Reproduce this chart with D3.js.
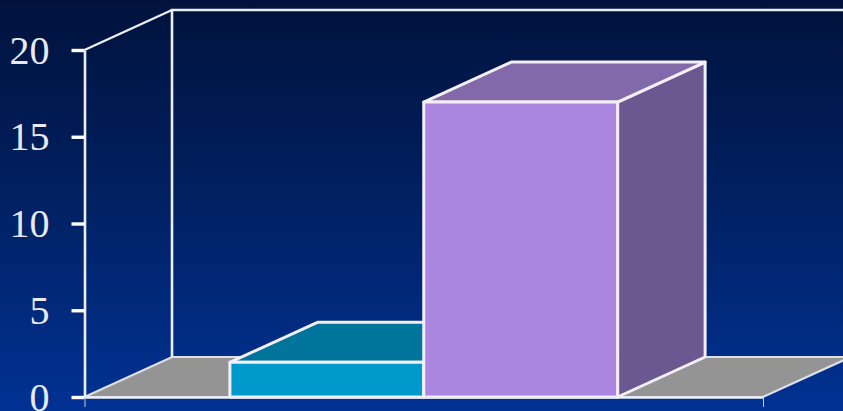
<!DOCTYPE html>
<html><head><meta charset="utf-8">
<script src="https://cdn.jsdelivr.net/npm/d3@7/dist/d3.min.js"></script>
<style>html,body{margin:0;padding:0;background:#00143f;overflow:hidden}svg{display:block}</style>
</head><body><svg id="c" width="843" height="411"></svg>
<script>
const categories = ["A", "B"];
const values = [2, 17];
const barFront = ["#0099cc", "#aa86e0"];
const barTop = ["#00759c", "#8269aa"];
const barSide = ["#00759c", "#6c5890"];
const yTicks = [0, 5, 10, 15, 20];

const W = 843, H = 411;
const svg = d3.select("#c");
const defs = svg.append("defs");
const g = defs.append("linearGradient").attr("id","bg").attr("x1",0).attr("x2",0).attr("y1",0).attr("y2",1);
g.append("stop").attr("offset",0).attr("stop-color","#00123c");
g.append("stop").attr("offset",0.5).attr("stop-color","#002163");
g.append("stop").attr("offset",1).attr("stop-color","#003294");
svg.append("rect").attr("width",W).attr("height",H).attr("fill","url(#bg)");

const x = d3.scaleBand().domain(categories).range([84.5,763]).paddingInner(0).paddingOuter(0.75);
const y = d3.scaleLinear().domain([0,20]).range([397,50]);
const dx = 87.5, dy = -40;
const line = "#eceef4";
const poly = pts => pts.map(p=>p.join(",")).join(" ");

const x0 = x.range()[0], x1 = x.range()[1], y0 = y(0), yT = y(20);

// floor
svg.append("polygon").attr("points",poly([[x0,y0],[x0+dx,y0+dy],[x1+dx,y0+dy],[x1,y0]]))
  .attr("fill","#949494").attr("stroke","#dfe0e6").attr("stroke-width",2.2);
// back wall
svg.append("path").attr("d",`M${x0+dx},${y0+dy}V${yT+dy}H${W+5}`)
  .attr("fill","none").attr("stroke",line).attr("stroke-width",2.6);
// side wall top edge
svg.append("line").attr("x1",x0).attr("y1",yT).attr("x2",x0+dx).attr("y2",yT+dy)
  .attr("stroke",line).attr("stroke-width",2.4);

// bars
const bars = svg.selectAll("g.bar").data(categories.map((c,i)=>({c,v:values[i],i}))).join("g").attr("class","bar")
  .attr("stroke","#f4eef8").attr("stroke-width",3).attr("stroke-linejoin","round");
bars.append("polygon").attr("fill",d=>barSide[d.i]).attr("points",d=>{
  const r=x(d.c)+x.bandwidth(); return poly([[r,y(d.v)],[r+dx,y(d.v)+dy],[r+dx,y0+dy],[r,y0]]);});
bars.append("polygon").attr("fill",d=>barTop[d.i]).attr("points",d=>{
  const l=x(d.c), r=l+x.bandwidth(); return poly([[l,y(d.v)],[l+dx,y(d.v)+dy],[r+dx,y(d.v)+dy],[r,y(d.v)]]);});
bars.append("rect").attr("fill",d=>barFront[d.i]).attr("x",d=>x(d.c)).attr("y",d=>y(d.v))
  .attr("width",x.bandwidth()).attr("height",d=>y0-y(d.v));

// axes
const yAxis = svg.append("g").attr("transform",`translate(${x0},0)`)
  .call(d3.axisLeft(y).tickValues(yTicks).tickSize(13).tickPadding(22).tickSizeOuter(0));
yAxis.select(".domain").attr("stroke",line).attr("stroke-width",2.6);
yAxis.selectAll(".tick line").attr("stroke","#ffffff").attr("stroke-width",3.4);
yAxis.selectAll("text").attr("fill","#e8eaf0").attr("font-family","'Liberation Serif',serif").attr("font-size",40).attr("dy","0.33em");

const xAxis = svg.append("g").attr("transform",`translate(0,${y0})`)
  .call(d3.axisBottom(d3.scaleLinear().domain([0,1]).range([x0,x1])).tickValues([0,1]).tickSize(10).tickFormat("").tickSizeOuter(0));
xAxis.select(".domain").attr("stroke",line).attr("stroke-width",2.4);
xAxis.selectAll(".tick line").attr("stroke","#c8cde0").attr("stroke-width",1);
</script></body></html>
